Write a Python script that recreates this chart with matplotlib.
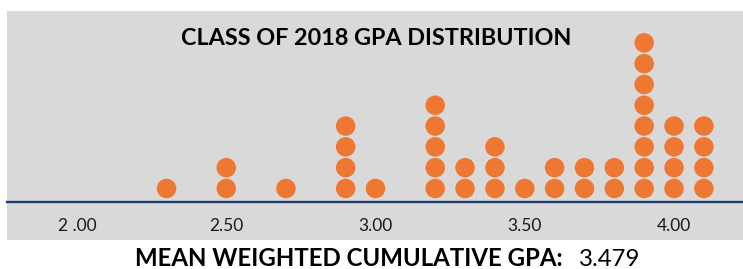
import matplotlib
matplotlib.use("Agg")
import matplotlib.pyplot as plt

# ==========================================
# data
# ==========================================
gpa_values = [2.3, 2.5, 2.7, 2.9, 3.0, 3.2, 3.3, 3.4, 3.5, 3.6, 3.7, 3.8, 3.9, 4.0, 4.1]
student_counts = [1, 2, 1, 4, 1, 5, 2, 3, 1, 2, 2, 2, 8, 4, 4]
tick_values = [2.0, 2.5, 3.0, 3.5, 4.0]
tick_labels = ["2 .00", "2.50", "3.00", "3.50", "4.00"]
title_text = "CLASS OF 2018 GPA DISTRIBUTION"
mean_label = "MEAN WEIGHTED CUMULATIVE GPA:"
mean_value = "3.479"

# ==========================================
# style
# ==========================================
FIG_W, FIG_H, DPI = 743, 269, 100
BG_GRAY = "#D9D9D9"
DOT_COLOR = "#EE7732"
LINE_COLOR = "#203F6B"
FONT = ["Lato", "DejaVu Sans"]

plt.rcParams["font.family"] = FONT

fig = plt.figure(figsize=(FIG_W / DPI, FIG_H / DPI), dpi=DPI)
# gray box: x 7..743 px, y 11..240 px (from top)
ax = fig.add_axes([7 / FIG_W, (FIG_H - 240) / FIG_H, 736 / FIG_W, 229 / FIG_H])
ax.set_facecolor(BG_GRAY)

# stacked dots, one per student
xs, ys = [], []
for v, n in zip(gpa_values, student_counts):
    for k in range(1, n + 1):
        xs.append(v)
        ys.append(k)
ax.scatter(xs, ys, s=19.5 ** 2 * (72 / DPI) ** 2, color=DOT_COLOR,
           edgecolors="none", zorder=3, clip_on=False)

base_y = 0.365
ax.set_xlim(1.7655, 4.231)
ax.set_ylim(-1.476, 9.53)

for side in ["top", "right", "left"]:
    ax.spines[side].set_visible(False)
ax.spines["bottom"].set_position(("data", base_y))
ax.spines["bottom"].set_color(LINE_COLOR)
ax.spines["bottom"].set_linewidth(1.7)
ax.spines["bottom"].set_zorder(2)

ax.set_yticks([])
ax.set_xticks(tick_values)
ax.set_xticklabels(tick_labels)
ax.tick_params(axis="x", length=0, pad=12, labelsize=12.5, labelcolor="#1a1a1a")

ax.text(0.501, 0.88, title_text, transform=ax.transAxes, ha="center", va="center",
        fontsize=16.8, fontweight="bold", color="black")

# caption under the box, bold label + regular value
fig.text(563 / FIG_W, 1 - 259 / FIG_H, mean_label, ha="right", va="center",
         fontsize=17.3, fontweight="bold", color="black")
fig.text(579 / FIG_W, 1 - 259 / FIG_H, mean_value, ha="left", va="center",
         fontsize=17.3, color="black")

fig.savefig("out.png", dpi=DPI, facecolor="white")
